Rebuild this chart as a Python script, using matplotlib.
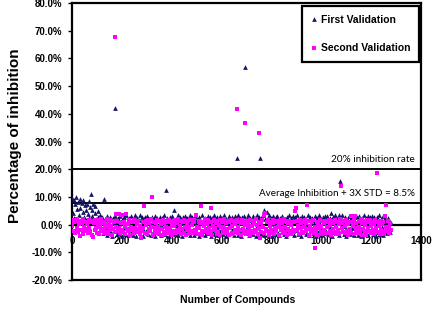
import numpy as np
import matplotlib.pyplot as plt

plt.rcParams['font.family'] = ['Liberation Sans', 'DejaVu Sans']

# inhibition (%) of compounds 1, 4, 7, ... (every 3rd compound)
first_band = [
    9.6, 4.1, 8.7, 2.3, 7.4, 9.9, 1.2, 5.6, 8.2, 3.4, 9.3, 6.1, 0.8, 7.8, 4.6, 8.9, 2.9, 6.9, 5.2, 1.6,
    7.3, 3.8, 8.5, 2.2, 6.4, 11.2, 3.1, 5.4, 7.6, 1.1, 4.2, 6.8, 2.0, -2.6, 4.8, 2.7, 1.3, 3.6, -1.4, 2.4,
    2.8, -3.2, 0.9, 9.4, 2.1, -0.7, 3.1, -3.8, 1.5, 0.4, -2.4, 2.6, 1.9, -4.1, 0.6, 2.2, -1.8, 3.0, -0.3, 1.4,
    -3.5, 2.5, 0.2, -2.9, 3.2, 1.0, -4.3, 1.8, -1.1, 2.7, -3.3, 0.5, 3.4, -2.0, 1.6, -3.9, 2.3, 0.0, -2.7, 3.1,
    1.2, -3.6, 2.0, -0.9, 3.5, -4.0, 0.8, 2.4, -2.5, 1.7, 3.3, -3.1, 0.3, 2.9, -1.6, -4.2, 1.9, 2.6, -2.2, 0.7,
    3.0, -3.4, 1.3, 2.1, -0.5, -3.9, 2.8, 0.6, -2.8, 1.5, 3.2, -4.1, 0.9, 2.3, -1.9, 1.8, -3.0, 2.7, 0.1, -3.7,
    2.2, -2.6, 1.1, 3.4, -3.3, 12.4, 0.4, 2.5, -1.3, -4.0, 1.7, 2.9, -2.1, 0.8, 3.1, -3.5, 5.2, 1.4, -2.9, 2.0,
    -0.6, 3.3, -3.8, 1.0, 2.6, -2.3, 0.5, -4.2, 2.8, 1.6, -1.5, 3.0, -3.2, 0.9, 2.4, -2.7, 1.3, 3.6, -3.9, 0.2,
    2.7, -2.0, 1.8, -3.6, 3.2, 0.6, -2.8, 2.1, -1.0, -4.1, 2.9, 1.2, -3.3, 0.4, 3.5, -2.4, 1.6, -3.7, 2.3, 0.8,
    -1.7, 3.1, -3.0, 1.5, 2.6, -4.3, 0.3, 2.2, -2.6, 3.4, 1.0, -3.4, 2.0, -0.8, 2.8, -3.9, 1.4, 3.0, -2.2, 0.6,
    2.5, -3.5, 1.1, 3.3, -1.4, -4.0, 2.1, 0.7, -2.9, 3.0, 1.8, -3.2, 0.2, 2.7, -2.0, 1.3, -3.8, 3.1, 0.5, -2.5,
    1.9, 3.4, -3.6, 0.8, 2.4, -1.8, -4.2, 2.9, 1.2, -2.7, 3.2, 0.4, -3.1, 2.0, -0.7, 3.6, -3.9, 1.6, 2.5, -2.3,
    0.9, 3.0, -3.4, 1.4, 2.2, -1.2, -4.0, 3.3, 0.6, -2.8, 2.7, 1.1, -3.3, 2.4, -0.4, 3.5, -3.7, 5.3, 2.0, -2.1,
    4.6, 1.5, -3.0, 3.4, 0.3, -2.6, 2.2, -4.1, 1.8, 3.0, -1.6, -3.5, 2.6, 0.7, 3.2, -2.9, 1.0, -3.8, 2.5, 0.4,
    -2.3, 3.1, 1.3, -3.4, 2.0, -0.9, -4.2, 2.8, 1.6, -2.5, 3.4, 0.5, -3.1, 2.3, -1.3, 3.0, -3.7, 1.2, 2.7, -2.0,
    0.8, 3.3, -3.5, 1.7, 2.4, -1.0, -4.0, 3.0, 0.2, -2.7, 2.6, 1.4, -3.3, 2.1, -0.6, 3.5, -3.9, 1.9, 2.9, -2.4,
    1.1, 2.5, -3.2, 0.6, 3.1, -1.7, -4.3, 2.2, 1.5, -2.8, 3.4, 0.3, -3.6, 2.0, -1.1, 2.8, -3.0, 1.3, 3.2, -2.2,
    0.5, 3.0, -3.4, 1.8, 2.3, -0.8, 4.1, -4.0, 2.7, 1.0, -2.6, 3.3, 0.7, -3.1, 2.1, -1.5, 3.6, -3.8, 15.9, 2.4,
    -2.2, 3.5, 1.2, -3.5, 2.6, -0.4, -4.1, 2.0, 1.6, -2.9, 3.1, 0.9, -3.3, 2.4, -1.2, 2.9, -3.7, 1.4, 3.2, -2.0,
    0.6, 2.7, -3.6, 1.3, 3.0, -1.5, -4.2, 2.2, 0.8, -2.4, 3.4, 1.7, -3.0, 2.5, -0.7, 3.1, -3.9, 1.0, 2.8, -2.6,
    1.5, 3.2, -3.3, 0.4, 2.6, -1.9, -4.0, 2.9, 1.1, -2.8, 3.3, 0.7, -3.5, 2.1, -1.0, 3.0, -3.8, 1.6, 2.5, -2.3,
    0.9, -3.1, 2.2, -1.6, 1.2, -2.7, 0.5,
]
second_band = [
    -0.5, 1.6, -2.4, 0.9, -3.1, 1.2, -1.3, 2.0, -2.7, 0.3, -4.3, 1.4, -1.9, 0.6, -3.3, 1.9, -0.9, -2.5, 1.0, -1.6,
    0.2, -3.0, 1.7, -1.1, -2.2, 0.8, -3.6, 1.3, -4.6, 0.5, -2.0, 1.8, -1.4, -2.9, 0.1, 1.5, -3.4, -0.7, 2.1, -2.3,
    0.7, -1.7, -3.2, 1.1, -0.3, -2.6, 1.9, -1.0, -3.5, 0.4, 1.6, -2.1, -0.6, -3.8, 1.2, -1.5, 0.9, -2.8, 3.7, -0.8,
    1.4, -2.4, 3.9, -1.2, -3.0, 0.6, 3.5, -1.8, -2.7, 1.0, -0.4, -3.3, 3.8, -1.6, 0.3, -2.2, 1.5, -3.6, -0.9, 1.1,
    -2.0, 0.8, -3.1, 1.7, -1.3, -2.6, 0.2, -1.5, 1.3, -1.9, -0.5, -3.4, -4.8, -2.3, 0.9, -1.1, 6.6, -2.9, 1.2, -0.2,
    -3.3, 1.5, -1.7, 0.4, -2.5, 1.9, 9.9, -0.7, -3.7, 1.0, -1.4, -2.8, 0.7, 1.6, -3.2, -0.8, -2.1, 1.3, -3.9, 0.2,
    -1.6, 1.8, -2.7, 0.5, -3.5, -0.9, 1.4, -2.2, 0.8, -3.0, 1.7, -1.2, -2.5, 0.3, -3.8, 1.1, -0.6, -2.3, 1.5, -3.1,
    0.6, -1.8, 1.9, -2.6, -0.4, -3.4, 1.2, -1.5, 0.9, -2.9, 1.6, -0.7, -3.6, 0.4, -2.0, 1.3, -1.0, -3.2, 1.8, -2.4,
    -0.3, 1.0, -3.0, 1.7, -1.9, -2.7, 3.4, -0.8, -3.5, 1.4, -1.3, 0.7, 6.6, -2.2, -3.9, 1.1, -0.6, -2.5, 1.9, -1.6,
    0.3, -3.1, 1.5, -1.1, -2.4, 6.1, 0.9, -3.7, -0.5, 1.8, -2.0, -1.4, 0.6, -3.3, 1.2, -2.8, -0.2, 1.6, -3.6, -1.0,
    1.0, -2.3, -0.7, 1.9, -3.2, 0.4, -1.7, -2.6, 1.3, -3.8, 0.8, -1.2, 1.7, -2.9, -0.4, -3.4, 1.4, -1.9, 0.2, -2.5,
    1.6, -0.9, -3.0, 1.1, -2.1, 0.5, -3.6, 1.8, -1.5, -2.7, 0.9, -0.3, -3.3, 1.4, -2.2, 0.7, -1.0, -3.9, 1.5, -2.4,
    -0.6, 1.2, -3.1, 0.3, -1.8, 1.9, -2.6, -0.2, -3.5, 1.0, -1.3, -4.9, 0.6, -2.8, 1.7, -0.8, -3.2, 3.6, 4.3, -1.6,
    0.8, -2.3, 1.5, -3.7, -0.5, 1.1, -1.9, -2.9, 0.4, 1.8, -3.3, -1.1, 0.9, -2.5, 1.3, -0.7, -3.6, 0.2, 1.6, -2.0,
    -1.4, 0.7, -3.0, 1.9, -0.9, -2.6, 1.2, -3.8, 0.5, -1.6, 1.4, -2.2, -0.3, -3.4, 1.0, -1.8, 0.8, -2.7, 4.8, 5.9,
    -2.1, 1.3, -0.6, -3.5, 1.7, -1.3, 0.4, -2.8, 1.0, -3.1, -0.8, 1.5, -2.4, 0.6, 6.9, -1.7, -3.7, 1.2, -0.4, -2.6,
    0.9, -1.5, 1.6, -3.2, -0.7, -8.4, -2.2, 1.1, -3.6, 0.3, -1.2, 1.8, -2.7, -0.5, -3.4, 1.3, -1.9, 0.6, -2.9, 1.4,
    -1.0, -3.0, 0.8, 1.7, -2.4, -0.2, -3.8, 1.2, -1.6, 0.5, -2.8, 1.5, -0.9, -3.3, 1.0, -2.0, 0.3, -3.5, 1.9, 14.1,
    -1.3, 0.7, -2.6, 1.4, -3.1, -0.6, 1.8, -2.2, 0.2, -3.7, 1.1, -1.5, 3.2, -2.9, 0.9, -0.4, -3.4, 1.6, 3.0, -2.0,
    0.5, -1.1, -3.2, 1.3, -0.8, -2.5, 1.9, -3.6, 0.6, -1.7, 1.2, -2.8, -0.3, -3.9, 1.5, -1.4, 0.8, -2.3, 1.7, -3.0,
    -0.6, 1.0, -2.1, 0.3, -3.4, 1.6, -1.2, -2.7, 18.8, 0.9, -0.5, -3.3, 1.4, -1.8, 0.2, -2.6, 1.1, -3.5, 3.0, -1.0,
    7.2, -2.4, 1.2, -0.8, -3.1, 0.6, -1.9,
]
band_step = 3  # one reading per 3 compounds

# strong hits
first_hit_x = [172, 660, 694, 752]
first_hit_y = [42.2, 24.2, 56.8, 24.0]
second_hit_x = [174, 663, 695, 750]
second_hit_y = [67.6, 41.8, 36.6, 33.2]

cutoff_20 = 20.0
cutoff_std = 7.8

navy = '#141464'
pink = '#ff00ff'

fig = plt.figure(figsize=(4.35, 3.10), dpi=100)
ax = fig.add_axes([0.1655, 0.097, 0.8025, 0.893])

x1 = np.arange(len(first_band)) * band_step + 1
x2 = np.arange(len(second_band)) * band_step + 1
first_x = np.concatenate([x1, first_hit_x])
first_y = np.concatenate([first_band, first_hit_y])
second_x = np.concatenate([x2, second_hit_x])
second_y = np.concatenate([second_band, second_hit_y])

ax.plot(first_x, first_y, linestyle='none', marker='^', ms=3.4, mew=0,
        color=navy, label='First Validation', zorder=3)
ax.plot(second_x, second_y, linestyle='none', marker='s', ms=3.2, mew=0,
        color=pink, label='Second Validation', zorder=4)

ax.axhline(cutoff_20, color='black', lw=1.4, zorder=2)
ax.axhline(cutoff_std, color='black', lw=1.4, zorder=2)
ax.text(1375, cutoff_20 + 1.8, '20% inhibition rate', ha='right', va='bottom',
        fontsize=7.2, family=['Lato', 'DejaVu Sans'])
ax.text(1375, cutoff_std + 1.8, 'Average Inhibition + 3X STD = 8.5%', ha='right',
        va='bottom', fontsize=7.1, family=['Lato', 'DejaVu Sans'])

ax.set_xlim(0, 1400)
ax.set_ylim(-20, 80)
ax.set_xticks(np.arange(0, 1401, 200))
ax.set_yticks(np.arange(-20, 81, 10))
ax.set_yticklabels(['%.1f%%' % v for v in np.arange(-20, 81, 10)])

for s in ax.spines.values():
    s.set_linewidth(1.6)
ax.spines['bottom'].set_position(('data', 0))
ax.plot([0, 1], [0, 0], transform=ax.transAxes, color='black', lw=1.6,
        clip_on=False, zorder=5)

ax.tick_params(axis='x', length=0, pad=8, labelsize=7)
ax.tick_params(axis='y', direction='out', length=3, width=1, pad=4, labelsize=7)
for lab in ax.get_xticklabels() + ax.get_yticklabels():
    lab.set_fontweight('bold')

ax.set_ylabel('Percentage of inhibition', fontsize=11, fontweight='bold')
ax.yaxis.set_label_coords(-0.143, 0.52)
fig.text(0.546, 0.032, 'Number of Compounds', ha='center', va='center',
         fontsize=7.5, fontweight='bold')

leg = ax.legend(loc='upper right', bbox_to_anchor=(0.994, 0.989),
                borderaxespad=0, prop={'weight': 'bold', 'size': 7.5},
                labelspacing=1.75, handlelength=0.6, handletextpad=0.3,
                borderpad=0.85, fancybox=False, framealpha=1)
leg.get_frame().set_edgecolor('black')
leg.get_frame().set_linewidth(1.6)

fig.savefig('out.png', dpi=100)
